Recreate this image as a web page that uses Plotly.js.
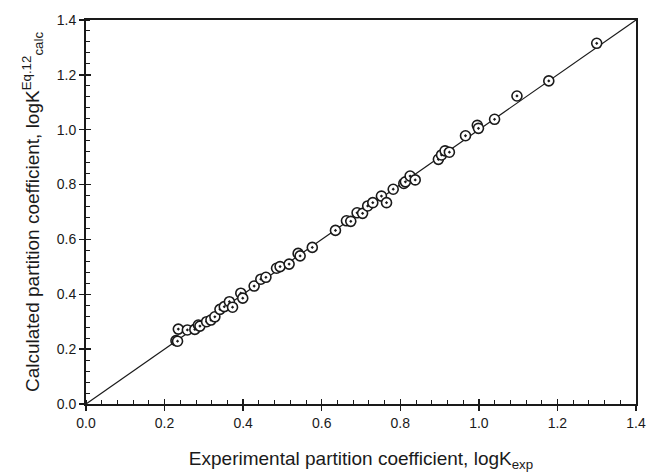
<!DOCTYPE html>
<html>
<head>
<meta charset="utf-8">
<script src="https://cdn.plot.ly/plotly-3.0.1.min.js"></script>
<style>html,body{margin:0;padding:0;background:#fff;}#chart{width:647px;height:476px;}</style>
</head>
<body>
<div id="chart"></div>
<script>
// Experimental logK values (x)
const logKexp = [0.229, 0.233, 0.235, 0.258, 0.277, 0.286, 0.290, 0.307, 0.318, 0.328,
  0.341, 0.352, 0.365, 0.373, 0.394, 0.399, 0.428, 0.445, 0.458, 0.485,
  0.494, 0.517, 0.540, 0.545, 0.576, 0.635, 0.663, 0.674, 0.690, 0.704,
  0.717, 0.730, 0.752, 0.765, 0.782, 0.809, 0.813, 0.825, 0.838, 0.897,
  0.905, 0.914, 0.925, 0.966, 0.996, 0.999, 1.040, 1.097, 1.178, 1.300];
// Calculated logK values (y)
const logKcalc = [0.231, 0.229, 0.273, 0.270, 0.272, 0.288, 0.284, 0.300, 0.306, 0.318,
  0.345, 0.355, 0.373, 0.353, 0.404, 0.386, 0.430, 0.455, 0.462, 0.495,
  0.501, 0.510, 0.549, 0.540, 0.571, 0.633, 0.668, 0.666, 0.697, 0.695,
  0.722, 0.734, 0.758, 0.734, 0.783, 0.804, 0.810, 0.831, 0.817, 0.892,
  0.908, 0.923, 0.918, 0.978, 1.016, 1.005, 1.038, 1.123, 1.178, 1.315];
// Identity line endpoints
const lineX = [0, 1.4];
const lineY = [0, 1.4];
// Axis range and tick values
const axisRange = [0, 1.4];
const tickVals = [0, 0.2, 0.4, 0.6, 0.8, 1.0, 1.2, 1.4];

const FONT = 'Liberation Sans, Arial, sans-serif';
const INK = '#1a1a1a';

const data = [
  {x: lineX, y: lineY, mode: 'lines', type: 'scatter', line: {color: INK, width: 1.2}, hoverinfo: 'skip', showlegend: false},
  {x: logKexp, y: logKcalc, mode: 'markers', type: 'scatter', showlegend: false,
   marker: {symbol: 'circle-dot', size: 10, color: '#ffffff', line: {color: INK, width: 1.6}}},
  {x: lineX, y: lineY, xaxis: 'x2', yaxis: 'y2', mode: 'lines', line: {width: 0}, hoverinfo: 'skip', showlegend: false}
];

const baseAxis = {
  range: axisRange, tickvals: tickVals, tickformat: '.1f',
  showgrid: false, zeroline: false, showline: true, linecolor: INK, linewidth: 2,
  ticks: 'outside', ticklen: 5, tickwidth: 1.4, tickcolor: INK,
  tickfont: {family: FONT, size: 14, color: INK},
  minor: {dtick: 0.04, ticks: 'inside', ticklen: 4, tickwidth: 1, tickcolor: INK}
};

const layout = {
  width: 647, height: 476,
  margin: {l: 86, r: 11, t: 20, b: 72},
  paper_bgcolor: '#fff', plot_bgcolor: '#fff',
  showlegend: false,
  xaxis: Object.assign({}, baseAxis, {
    mirror: true,
    title: {text: 'Experimental partition coefficient, logK<sub>exp</sub>', font: {family: FONT, size: 19, color: INK}, standoff: 22}
  }),
  yaxis: Object.assign({}, baseAxis, {
    mirror: true,
    title: {text: 'Calculated partition coefficient, logK<sup>Eq.12</sup><sub>calc</sub>', font: {family: FONT, size: 19, color: INK}, standoff: 12}
  }),
  xaxis2: {overlaying: 'x', anchor: 'y2', range: axisRange, tickvals: tickVals, showticklabels: false,
    showgrid: false, zeroline: false, showline: false, ticks: 'inside', ticklen: 5, tickwidth: 1.4, tickcolor: INK, side: 'bottom'},
  yaxis2: {overlaying: 'y', anchor: 'x2', range: axisRange, tickvals: tickVals, showticklabels: false,
    showgrid: false, zeroline: false, showline: false, ticks: 'inside', ticklen: 5, tickwidth: 1.4, tickcolor: INK, side: 'left'}
};

Plotly.newPlot('chart', data, layout, {staticPlot: true, displayModeBar: false});
</script>
</body>
</html>
